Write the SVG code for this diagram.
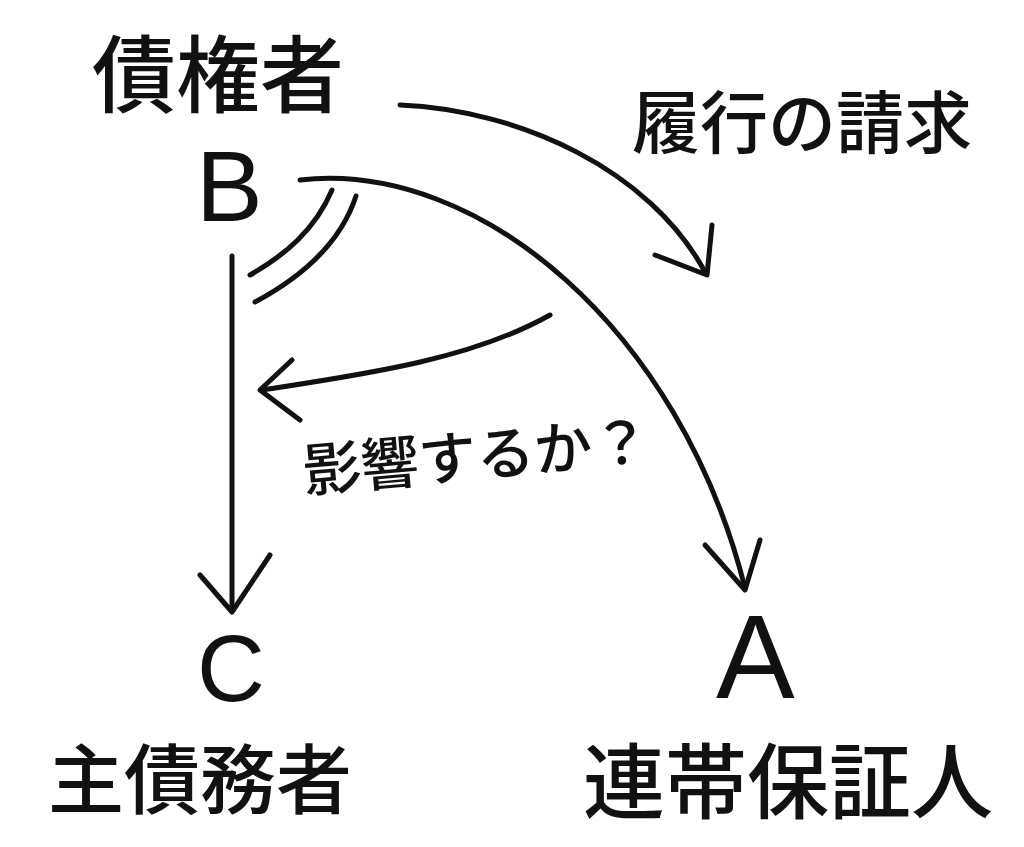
<svg xmlns="http://www.w3.org/2000/svg" width="1024" height="847" viewBox="0 0 1024 847">
<style>
.t{font-family:"Noto Sans CJK JP","Noto Sans",sans-serif;fill:#111;font-weight:500}
.l{font-family:"Liberation Sans",sans-serif;fill:#111}
.s{fill:none;stroke:#111;stroke-width:5;stroke-linecap:round;stroke-linejoin:round}
</style>
<rect width="1024" height="847" fill="#fff"/>
<g id="creditor">
<text class="t" x="92" y="106" font-size="84">債権者</text>
<text class="l" x="196" y="221" font-size="100">B</text>
</g>
<g id="request-label">
<text class="t" x="632" y="148" font-size="68">履行の請求</text>
</g>
<g id="influence-label">
<text class="t" x="305" y="492" font-size="58" transform="rotate(-5 305 492)">影響するか？</text>
</g>
<g id="debtor">
<text class="l" x="197" y="701" font-size="94">C</text>
<text class="t" x="48" y="808" font-size="76">主債務者</text>
</g>
<g id="guarantor">
<text class="l" x="716" y="698" font-size="118">A</text>
<text class="t" x="583" y="812" font-size="82">連帯保証人</text>
</g>
<g id="connectors">
<path class="s" d="M400,105 C520,110 650,170 705,272"/>
<path class="s" d="M655,255 L707,275 L712,225"/>
<path class="s" d="M300,180 C480,160 680,330 745,588"/>
<path class="s" d="M705,545 L745,590 L760,540"/>
<path class="s" d="M250,275 C285,255 315,230 332,190"/>
<path class="s" d="M255,302 C300,278 340,245 356,196"/>
<path class="s" d="M232,256 L232,610"/>
<path class="s" d="M200,575 L232,612 L270,555"/>
<path class="s" d="M550,315 C470,360 360,375 262,390"/>
<path class="s" d="M292,360 L260,390 L300,420"/>
</g>
</svg>
